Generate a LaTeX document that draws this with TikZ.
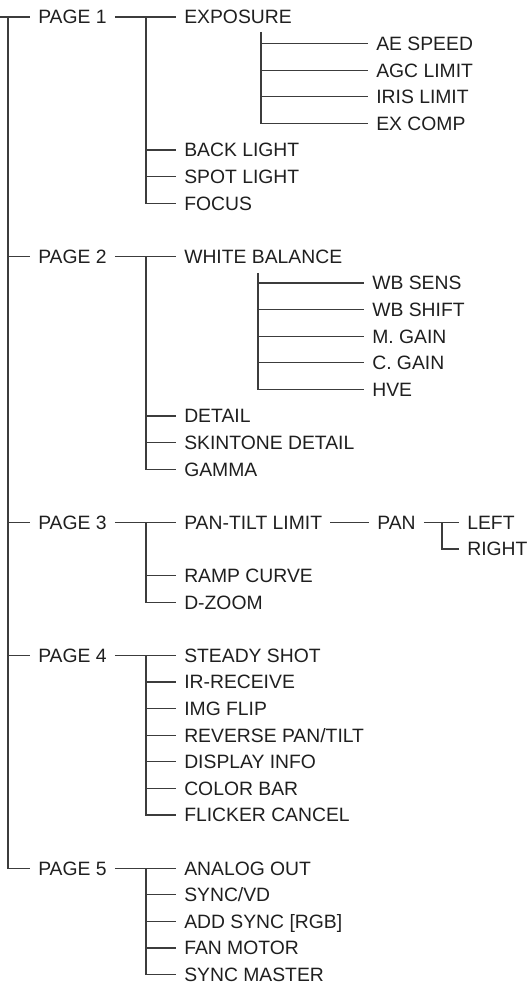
\documentclass[tikz,border=0pt]{standalone}
\usepackage{fontspec}
\setmainfont{Liberation Sans}
\usepackage{xcolor}
\definecolor{lineGray}{HTML}{3C3C3C}
\definecolor{textBlack}{HTML}{1F1F1F}
\begin{document}
\begin{tikzpicture}[x=0.02cm, y=-0.532cm,
  font=\fontsize{11}{13}\selectfont,
  item/.style={anchor=west, inner xsep=4.5pt, inner ysep=0pt, text height=7.9pt, text depth=0pt, text=textBlack},
  link/.style={draw=lineGray, line width=0.65pt}]
  \useasboundingbox (0,-0.64) rectangle (529,36.58);

  % pages
  \node[item] (p1) at (30,0) {PAGE 1};
  \node[item] (p2) at (30,9) {PAGE 2};
  \node[item] (p3) at (30,19) {PAGE 3};
  \node[item] (p4) at (30,24) {PAGE 4};
  \node[item] (p5) at (30,32) {PAGE 5};

  % page 1
  \node[item] (exposure) at (176,0) {EXPOSURE};
  \node[item] (aespeed) at (368,1) {AE SPEED};
  \node[item] (agclimit) at (368,2) {AGC LIMIT};
  \node[item] (irislimit) at (368,3) {IRIS LIMIT};
  \node[item] (excomp) at (368,4) {EX COMP};
  \node[item] (backlight) at (176,5) {BACK LIGHT};
  \node[item] (spotlight) at (176,6) {SPOT LIGHT};
  \node[item] (focus) at (176,7) {FOCUS};

  % page 2
  \node[item] (wb) at (176,9) {WHITE BALANCE};
  \node[item] (wbsens) at (364,10) {WB SENS};
  \node[item] (wbshift) at (364,11) {WB SHIFT};
  \node[item] (mgain) at (364,12) {M. GAIN};
  \node[item] (cgain) at (364,13) {C. GAIN};
  \node[item] (hve) at (364,14) {HVE};
  \node[item] (detail) at (176,15) {DETAIL};
  \node[item] (skintone) at (176,16) {SKINTONE DETAIL};
  \node[item] (gamma) at (176,17) {GAMMA};

  % page 3
  \node[item] (pantilt) at (176,19) {PAN-TILT LIMIT};
  \node[item] (pan) at (369,19) {PAN};
  \node[item] (left) at (459,19) {LEFT};
  \node[item] (right) at (459,20) {RIGHT};
  \node[item] (ramp) at (176,21) {RAMP CURVE};
  \node[item] (dzoom) at (176,22) {D-ZOOM};

  % page 4
  \node[item] (steady) at (176,24) {STEADY SHOT};
  \node[item] (irreceive) at (176,25) {IR-RECEIVE};
  \node[item] (imgflip) at (176,26) {IMG FLIP};
  \node[item] (reverse) at (176,27) {REVERSE PAN/TILT};
  \node[item] (dispinfo) at (176,28) {DISPLAY INFO};
  \node[item] (colorbar) at (176,29) {COLOR BAR};
  \node[item] (flicker) at (176,30) {FLICKER CANCEL};

  % page 5
  \node[item] (analog) at (176,32) {ANALOG OUT};
  \node[item] (syncvd) at (176,33) {SYNC/VD};
  \node[item] (addsync) at (176,34) {ADD SYNC [RGB]};
  \node[item] (fan) at (176,35) {FAN MOTOR};
  \node[item] (syncmaster) at (176,36) {SYNC MASTER};

  % junctions
  \coordinate (root) at (0,0);
  \coordinate (trunk) at (8,0);
  \coordinate (j1) at (146,0);
  \coordinate (j2) at (146,9);
  \coordinate (j3) at (146,19);
  \coordinate (j4) at (146,24);
  \coordinate (j5) at (146,32);
  \coordinate (jexp) at (261,0.56);
  \coordinate (jwb) at (258,9.62);
  \coordinate (jpan) at (442,19);

  % trunk
  \draw[link] (root) -- (p1.west);
  \draw[link] (trunk) |- (p5.west);
  \foreach \p in {p2,p3,p4}
    \draw[link] (trunk |- \p.west) -- (\p.west);

  % page branches
  \draw[link] (p1.east) -- (exposure.west);
  \draw[link] (j1) |- (focus.west);
  \foreach \n in {backlight,spotlight}
    \draw[link] (j1 |- \n.west) -- (\n.west);
  \draw[link] (jexp) |- (excomp.west);
  \foreach \n in {aespeed,agclimit,irislimit}
    \draw[link] (jexp |- \n.west) -- (\n.west);

  \draw[link] (p2.east) -- (wb.west);
  \draw[link] (j2) |- (gamma.west);
  \foreach \n in {detail,skintone}
    \draw[link] (j2 |- \n.west) -- (\n.west);
  \draw[link] (jwb) |- (hve.west);
  \foreach \n in {wbsens,wbshift,mgain,cgain}
    \draw[link] (jwb |- \n.west) -- (\n.west);

  \draw[link] (p3.east) -- (pantilt.west);
  \draw[link] (pantilt.east) -- (pan.west);
  \draw[link] (pan.east) -- (left.west);
  \draw[link] (jpan) |- (right.west);
  \draw[link] (j3) |- (dzoom.west);
  \draw[link] (j3 |- ramp.west) -- (ramp.west);

  \draw[link] (p4.east) -- (steady.west);
  \draw[link] (j4) |- (flicker.west);
  \foreach \n in {irreceive,imgflip,reverse,dispinfo,colorbar}
    \draw[link] (j4 |- \n.west) -- (\n.west);

  \draw[link] (p5.east) -- (analog.west);
  \draw[link] (j5) |- (syncmaster.west);
  \foreach \n in {syncvd,addsync,fan}
    \draw[link] (j5 |- \n.west) -- (\n.west);
\end{tikzpicture}
\end{document}
